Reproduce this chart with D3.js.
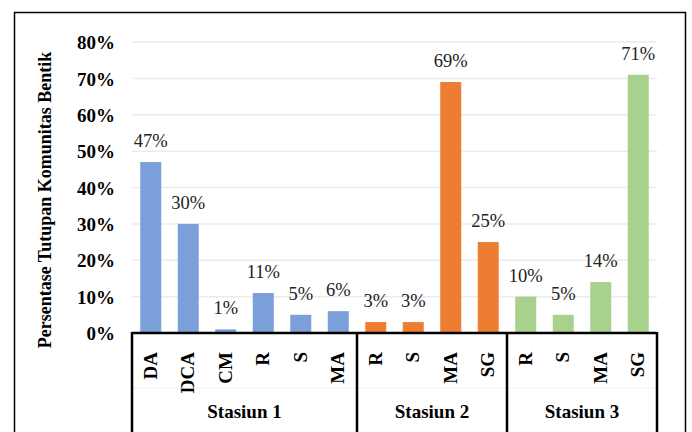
<!DOCTYPE html>
<html><head><meta charset="utf-8">
<script src="https://cdn.jsdelivr.net/npm/d3@7/dist/d3.min.js"></script>
<style>body{margin:0;background:#fff;}svg{display:block;}</style>
</head><body>
<script>
const groups = ["Stasiun 1", "Stasiun 2", "Stasiun 3"];
const categories = [
  ["DA","DCA","CM","R","S","MA"],
  ["R","S","MA","SG"],
  ["R","S","MA","SG"]
];
const values = [
  [47,30,1,11,5,6],
  [3,3,69,25],
  [10,5,14,71]
];
const colors = ["#7b9fd9","#ed7d31","#a9d18e"];
const yTicks = [0,10,20,30,40,50,60,70,80];
const yTitle = "Persentase Tutupan Komunitas Bentik";

const FONT = "'Liberation Serif', 'Times New Roman', serif";
const W = 692, H = 432;
const svg = d3.select("body").append("svg").attr("width", W).attr("height", H);
svg.append("rect").attr("width", W).attr("height", H).attr("fill", "#fff");
svg.append("rect").attr("x", 14.5).attr("y", 12.5).attr("width", 671).attr("height", 440)
  .attr("fill", "none").attr("stroke", "#000").attr("stroke-width", 1.5);

const rows = [];
groups.forEach((g, gi) => categories[gi].forEach((c, ci) =>
  rows.push({key: gi + "-" + ci, g: gi, cat: c, v: values[gi][ci]})));

const left = 132, right = 657, y0 = 333, yTop = 42;
const x = d3.scaleBand().domain(rows.map(d => d.key)).range([left, right]).paddingInner(0.44).paddingOuter(0.22);
const y = d3.scaleLinear().domain([0, 80]).range([y0, yTop]);

// gridlines
svg.append("g").selectAll("line").data(yTicks.filter(t => t > 0)).join("line")
  .attr("x1", left).attr("x2", right).attr("y1", d => y(d)).attr("y2", d => y(d))
  .attr("stroke", "#ebebeb").attr("stroke-width", 1.5);

// y axis labels
const yAxis = d3.axisLeft(y).tickValues(yTicks).tickFormat(d => d + "%").tickSize(0).tickPadding(0);
const ya = svg.append("g").attr("transform", `translate(115,0)`).call(yAxis);
ya.select(".domain").remove();
ya.selectAll("text").attr("font-family", FONT).attr("font-weight", "bold")
  .attr("font-size", 19).attr("fill", "#000").attr("dy", "0.35em");

// bars
svg.append("g").selectAll("rect").data(rows).join("rect")
  .attr("x", d => x(d.key)).attr("width", x.bandwidth())
  .attr("y", d => y(d.v)).attr("height", d => y0 - y(d.v))
  .attr("fill", d => colors[d.g]);

// data labels
svg.append("g").selectAll("text").data(rows).join("text")
  .attr("x", d => x(d.key) + x.bandwidth() / 2).attr("y", d => y(d.v) - 15)
  .attr("text-anchor", "middle").attr("font-family", FONT)
  .attr("font-size", 18.5).attr("fill", "#222").text(d => d.v + "%");

// category labels
svg.append("g").selectAll("text").data(rows).join("text")
  .attr("transform", d => `translate(${x(d.key) + x.bandwidth() / 2 + 6},352) rotate(-90)`)
  .attr("text-anchor", "end").attr("font-family", FONT).attr("font-weight", "bold")
  .attr("font-size", 19).attr("fill", "#000").text(d => d.cat);

// faint divider
svg.append("line").attr("x1", left).attr("x2", right).attr("y1", 388).attr("y2", 388)
  .attr("stroke", "#eeeeee").attr("stroke-width", 1);

// axis box and group separators
const ax = svg.append("g").attr("stroke", "#000").attr("stroke-width", 2.5);
ax.append("line").attr("x1", left).attr("x2", right).attr("y1", y0).attr("y2", y0);
const edges = [left];
let cnt = 0;
categories.forEach(cs => { cnt += cs.length; edges.push(left + (right - left) * cnt / rows.length); });
ax.selectAll("line.v").data(edges).join("line").attr("class", "v")
  .attr("x1", d => d).attr("x2", d => d).attr("y1", y0 - 1).attr("y2", H);

// group labels
svg.append("g").selectAll("text").data(groups).join("text")
  .attr("x", (d, i) => (edges[i] + edges[i + 1]) / 2).attr("y", 418)
  .attr("text-anchor", "middle").attr("font-family", FONT).attr("font-weight", "bold")
  .attr("font-size", 19).attr("fill", "#000").text(d => d);

// y title
svg.append("text").attr("transform", "translate(51,200) rotate(-90)")
  .attr("text-anchor", "middle").attr("font-family", FONT).attr("font-weight", "bold")
  .attr("font-size", 18).attr("fill", "#000").text(yTitle);
</script>
</body></html>
